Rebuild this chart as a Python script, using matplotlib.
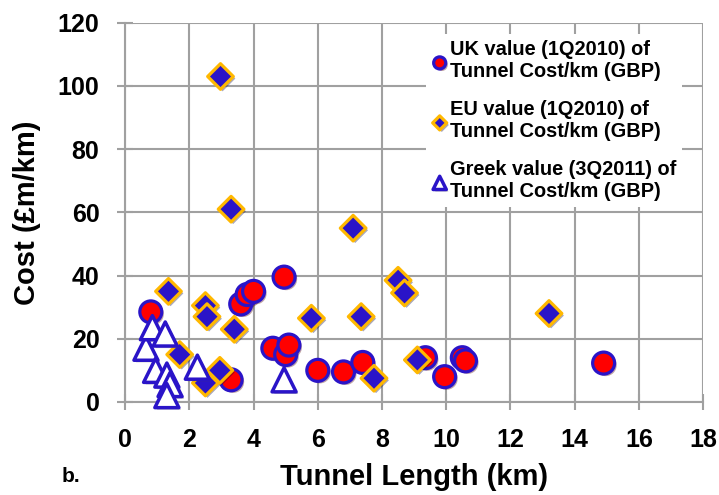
import matplotlib.pyplot as plt
import matplotlib.patheffects as pe

plt.rcParams['font.family'] = ['Liberation Sans', 'DejaVu Sans']
plt.rcParams['font.weight'] = 'bold'

# UK value (1Q2010)
uk_len = [0.8, 3.3, 3.6, 3.8, 4.0, 4.6, 4.95, 5.0, 5.1, 6.0, 6.8, 7.4, 9.35, 9.95, 10.5, 10.6, 14.9]
uk_cost = [28.5, 7, 31, 34, 35, 17, 39.5, 15, 18, 10, 9.5, 12.5, 14, 8, 14, 13, 12.3]

# EU value (1Q2010)
eu_len = [1.35, 1.7, 2.5, 2.55, 2.5, 2.95, 2.97, 3.3, 3.4, 5.8, 7.1, 7.35, 7.75, 8.5, 8.7, 9.1, 13.2]
eu_cost = [35, 15, 30.5, 27, 6, 10, 103, 61, 23, 26.5, 55, 27, 7.5, 38.5, 34.5, 13.3, 28]

# Greek value (3Q2011)
gr_len = [0.65, 0.85, 1.25, 0.95, 1.3, 1.4, 1.3, 2.25, 4.95]
gr_cost = [17, 23.5, 21.5, 10, 8.5, 5.5, 2, 11, 7]

blue = '#2a14c8'
fig = plt.figure(figsize=(7.19, 4.95), dpi=100)
ax = fig.add_axes([0.174, 0.188, 0.804, 0.766])

shadow = [pe.SimplePatchShadow(offset=(1.5, -1.5), alpha=0.35), pe.Normal()]

s1 = ax.scatter(uk_len, uk_cost, s=250, marker='o', facecolor='#ff0000',
                edgecolor=blue, linewidth=2.3, zorder=3, clip_on=False,
                label='UK value (1Q2010) of\nTunnel Cost/km (GBP)')
s2 = ax.scatter(eu_len, eu_cost, s=170, marker='D', facecolor=blue,
                edgecolor='#ffb800', linewidth=2.3, zorder=4, clip_on=False,
                label='EU value (1Q2010) of\nTunnel Cost/km (GBP)')
s3 = ax.scatter(gr_len, gr_cost, s=300, marker='^', facecolor='white',
                edgecolor=blue, linewidth=2.5, zorder=5, clip_on=False,
                label='Greek value (3Q2011) of\nTunnel Cost/km (GBP)')
for s in (s1, s2, s3):
    s.set_path_effects(shadow)

ax.set_xlim(0, 18)
ax.set_ylim(0, 120)
ax.set_xticks(range(0, 19, 2))
ax.set_yticks(range(0, 121, 20))
ax.grid(True, color='#a0a0a0', linewidth=1.5)
ax.set_axisbelow(True)
for sp in ('top', 'right'):
    ax.spines[sp].set_visible(False)
for sp in ('left', 'bottom'):
    ax.spines[sp].set_color('#a0a0a0')
    ax.spines[sp].set_linewidth(1.5)
ax.tick_params(direction='inout', length=11, width=1.5, color='#a0a0a0',
               labelsize=18, labelcolor='black', pad=13)
for lab in ax.get_xticklabels() + ax.get_yticklabels():
    lab.set_fontweight('bold')

ax.set_xlabel('Tunnel Length (km)', fontsize=21, fontweight='bold')
ax.set_ylabel('Cost (£m/km)', fontsize=21, fontweight='bold')
ax.xaxis.set_label_coords(0.5, -0.16)
ax.yaxis.set_label_coords(-0.145, 0.5)
fig.text(0.085, 0.026, 'b.', fontsize=15, fontweight='bold', va='baseline')

leg = ax.legend(loc='upper left', bbox_to_anchor=(0.52, 0.97), frameon=True,
                fontsize=14.4, handletextpad=0.1, labelspacing=0.95,
                markerscale=0.55, handlelength=0.8, borderpad=0.3,
                borderaxespad=0)
leg.get_frame().set_edgecolor('none')
leg.get_frame().set_facecolor('white')
leg.get_frame().set_alpha(1)
leg.get_frame().set_boxstyle('square', pad=0)
for t in leg.get_texts():
    t.set_fontweight('bold')

fig.savefig('out.png', dpi=100)
